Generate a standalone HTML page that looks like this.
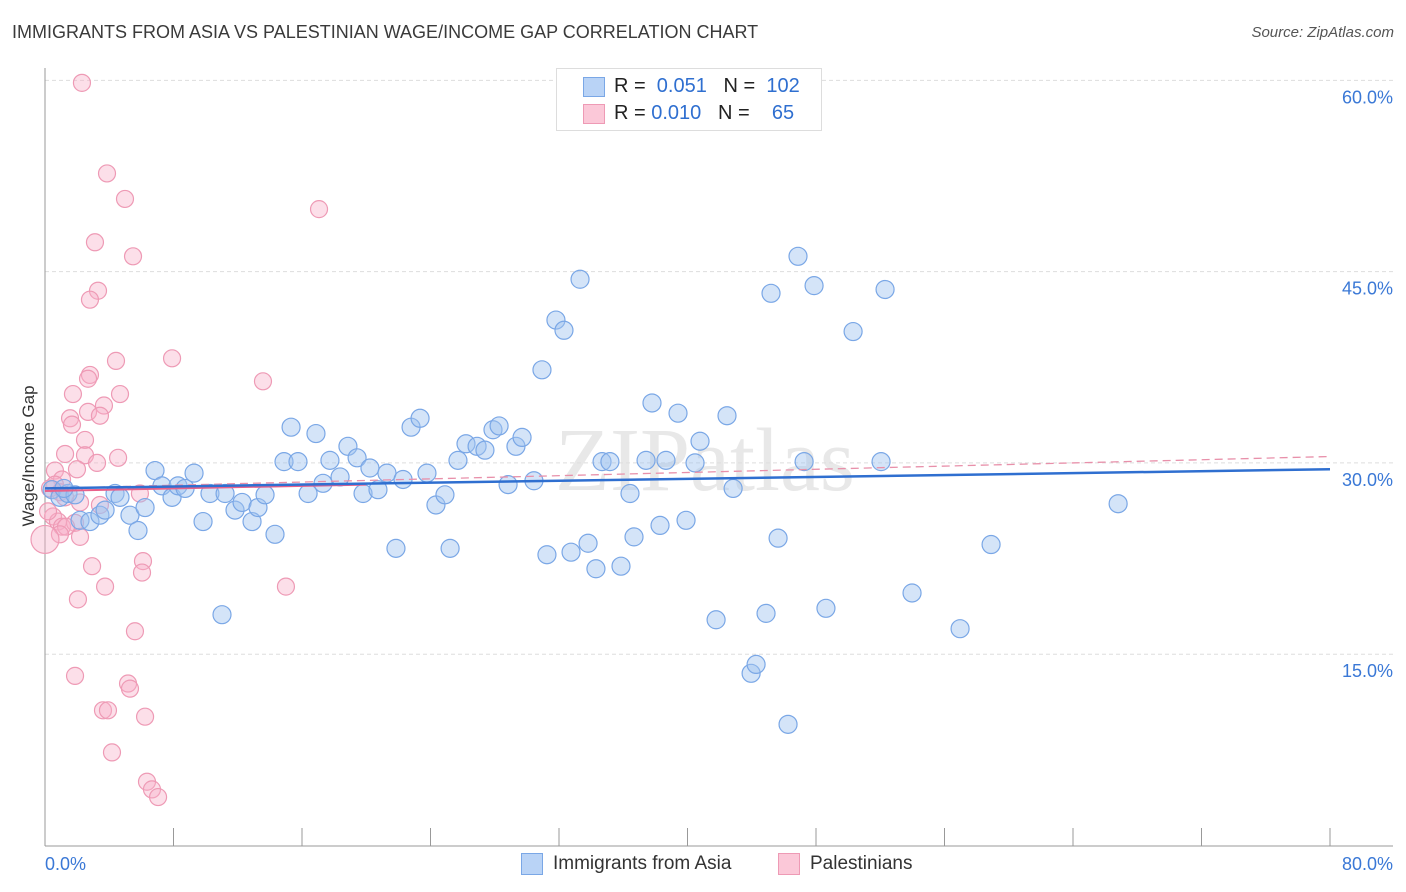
<!DOCTYPE html>
<html><head><meta charset="utf-8"><style>
body{margin:0;background:#fff;font-family:"Liberation Sans",sans-serif;}
#wrap{position:relative;width:1406px;height:892px;overflow:hidden;}
.t{position:absolute;white-space:nowrap;}
</style></head><body>
<div id="wrap">
<div class="t" style="left:12px;top:22px;font-size:18px;color:#3a3a3a;">IMMIGRANTS FROM ASIA VS PALESTINIAN WAGE/INCOME GAP CORRELATION CHART</div>
<div class="t" style="right:12px;top:24px;font-size:15px;color:#555;font-style:italic;">Source: ZipAtlas.com</div>
<svg id="svg" width="1406" height="892" style="position:absolute;left:0;top:0"></svg>
</div>
<script>
const xTicks=[0,8,16,24,32,40,48,56,64,72,80];
const yTicks=[15,30,45,60];
const yTickLabels=["15.0%","30.0%","45.0%","60.0%"];
const asiaX=[.44,.93,1.43,1.87,1.18,2.18,2.8,3.42,3.74,4.36,4.67,5.29,5.79,6.23,6.85,7.28,7.91,8.28,8.72,9.28,9.84,10.27,11.21,11.83,12.27,12.89,13.26,13.7,14.32,11.02,14.88,15.32,15.75,16.38,16.87,17.31,17.74,18.37,18.86,19.43,19.8,20.23,20.73,21.29,21.85,22.29,22.79,23.35,23.78,24.34,24.9,25.22,25.71,26.21,26.9,27.39,27.89,28.27,28.83,29.32,29.7,30.44,30.94,31.25,31.81,32.31,32.75,33.31,33.81,34.3,34.68,35.17,35.86,36.42,36.67,37.42,37.79,38.29,38.66,39.41,39.91,40.47,40.78,41.78,42.46,42.84,43.96,44.27,44.89,45.2,45.64,46.26,46.88,47.26,47.88,48.62,50.31,52.05,52.3,53.98,56.97,58.9,66.81];
const asiaY=[27.9,27.3,27.6,27.5,28.0,25.5,25.4,25.9,26.3,27.6,27.3,25.9,24.7,26.5,29.4,28.2,27.3,28.2,28.0,29.2,25.4,27.6,27.6,26.3,26.9,25.4,26.5,27.5,24.4,18.1,30.1,32.8,30.1,27.6,32.3,28.4,30.2,28.9,31.3,30.4,27.6,29.6,27.9,29.2,23.3,28.7,32.8,33.5,29.2,26.7,27.5,23.3,30.2,31.5,31.3,31.0,32.6,32.9,28.3,31.3,32.0,28.6,37.3,22.8,41.2,40.4,23.0,44.4,23.7,21.7,30.1,30.1,21.9,27.6,24.2,30.2,34.7,25.1,30.2,33.9,25.5,30.0,31.7,17.7,33.7,28.0,13.5,14.2,18.2,43.3,24.1,9.5,46.2,30.1,43.9,18.6,40.3,30.1,43.6,19.8,17.0,23.6,26.8];
const palX=[2.3,3.86,4.98,17.06,3.11,5.48,3.3,2.8,7.91,4.42,2.8,2.68,13.57,1.74,4.67,3.67,2.68,1.56,3.42,1.68,2.49,1.25,2.49,3.24,4.55,1.99,.62,1.06,5.91,.62,.31,.93,1.25,2.18,3.42,.5,.81,.19,1.06,1.87,1.31,.93,2.18,0,6.1,2.93,6.04,3.74,2.05,15.0,5.6,1.87,5.17,5.29,3.61,3.92,6.23,4.17,6.35,6.66,7.04];
const palY=[59.8,52.7,50.7,49.9,47.3,46.2,43.5,42.8,38.2,38.0,36.9,36.6,36.4,35.4,35.4,34.5,34.0,33.5,33.7,33.0,31.8,30.7,30.6,30.0,30.4,29.5,29.4,28.7,27.6,28.3,28.0,27.7,27.3,26.9,26.7,25.8,25.4,26.2,25.0,25.3,25.0,24.4,24.2,24.0,22.3,21.9,21.4,20.3,19.3,20.3,16.8,13.3,12.7,12.3,10.6,10.6,10.1,7.3,5.0,4.4,3.8];
const asiaTrend=[28.0,29.5];
const palTrend=[28.0,30.5];
const palSolid=[27.8,28.3,20];

const X0=45,X1=1330,Y0=845.5,PY=12.753;
const sx=v=>X0+(v/80)*(X1-X0);
const sy=v=>Y0-v*PY;
const svg=document.getElementById('svg');
const NS='http://www.w3.org/2000/svg';
function mk(tag,attrs){const e=document.createElementNS(NS,tag);for(const k in attrs)e.setAttribute(k,attrs[k]);svg.appendChild(e);return e;}

// watermark
let wm=mk('text',{x:555,y:490,'font-size':90,fill:'#e8e8e8','font-family':'Liberation Serif, serif'});


wm.textContent='ZIPatlas';

// grid
yTicks.concat([]).forEach((v,i)=>{
  let g=mk('line',{x1:X0,x2:1393,y1:sy(v),y2:sy(v),stroke:'#ddd','stroke-dasharray':'4,3'});
  
  
  let t=mk('text',{x:1393,y:sy(v)+23,'text-anchor':'end','font-size':18,fill:'#3a78d6','font-family':'Liberation Sans, sans-serif'});
  
  
  t.textContent=yTickLabels[i];
});
let ax=mk('line',{x1:X0,x2:X0,y1:68,y2:846,stroke:'#999'});


let bx=mk('line',{x1:X0,x2:1393,y1:846,y2:846,stroke:'#999'});


xTicks.forEach(v=>{
  let t=mk('line',{x1:sx(v),x2:sx(v),y1:828,y2:846,stroke:'#999'});
  
  
});
let xl0=mk('text',{x:45,y:870,'font-size':18,fill:'#3a78d6','font-family':'Liberation Sans, sans-serif'});


xl0.textContent='0.0%';
let xl1=mk('text',{x:1393,y:870,'text-anchor':'end','font-size':18,fill:'#3a78d6','font-family':'Liberation Sans, sans-serif'});


xl1.textContent='80.0%';
let yt=mk('text',{x:34,y:456,'text-anchor':'middle','font-size':17,fill:'#333',transform:'rotate(-90 34 456)','font-family':'Liberation Sans, sans-serif'});


yt.textContent='Wage/Income Gap';

// points
palX.forEach((x,i)=>{
  let c=mk('circle',{cx:sx(x),cy:sy(palY[i]),r:(i===43?14:8.5),fill:'rgba(248,175,200,0.4)',stroke:'#ee9ab5','stroke-width':1.2});
  
  
});
asiaX.forEach((x,i)=>{
  let c=mk('circle',{cx:sx(x),cy:sy(asiaY[i]),r:9,fill:'rgba(160,196,240,0.45)',stroke:'#7aa7e6','stroke-width':1.2});
  
  
});
// trends
let pd=mk('line',{x1:sx(0),y1:sy(palTrend[0]),x2:sx(80),y2:sy(palTrend[1]),stroke:'#e890aa','stroke-width':1.3,'stroke-dasharray':'8,5'});


let ps=mk('line',{x1:sx(0),y1:sy(palSolid[0]),x2:sx(palSolid[2]),y2:sy(palSolid[1]),stroke:'#e8608a','stroke-width':2});


let at=mk('line',{x1:sx(0),y1:sy(asiaTrend[0]),x2:sx(80),y2:sy(asiaTrend[1]),stroke:'#2f6fd0','stroke-width':2.5});


</script>
<div class="t" style="left:556px;top:68px;width:264px;height:61px;border:1px solid #ddd;background:#fff;">
  <div class="t" style="left:26px;top:8px;width:20px;height:18px;background:#b9d3f6;border:1px solid #7aa7e6;"></div>
  <div class="t" style="left:57px;top:6px;font-size:20px;color:#222;">R = <span style="color:#2f6fd0">&nbsp;0.051</span>&nbsp;&nbsp;&nbsp;N = <span style="color:#2f6fd0">&nbsp;102</span></div>
  <div class="t" style="left:26px;top:35px;width:20px;height:18px;background:#fbc8d8;border:1px solid #ee9ab5;"></div>
  <div class="t" style="left:57px;top:33px;font-size:20px;color:#222;">R = <span style="color:#2f6fd0">0.010</span>&nbsp;&nbsp;&nbsp;N = <span style="color:#2f6fd0">&nbsp;&nbsp;&nbsp;65</span></div>
</div>
<div class="t" style="left:521px;top:853px;width:20px;height:20px;background:#b9d3f6;border:1px solid #7aa7e6;"></div>
<div class="t" style="left:553px;top:853px;font-size:19px;color:#333;">Immigrants from Asia</div>
<div class="t" style="left:778px;top:853px;width:20px;height:20px;background:#fbc8d8;border:1px solid #ee9ab5;"></div>
<div class="t" style="left:810px;top:853px;font-size:19px;color:#333;">Palestinians</div>
</body></html>
